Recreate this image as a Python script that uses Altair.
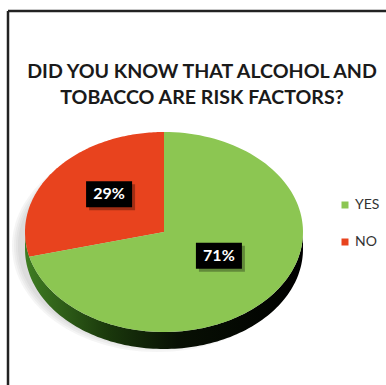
import altair as alt
import pandas as pd

# ---- data ----
categories = ["NO", "YES"]          # drawing order (NO starts at 12 o'clock, counter-clockwise)
values = [29, 71]
legend_order = ["YES", "NO"]
slice_colors = ["#8CC652", "#E8431E"]  # YES, NO
title_lines = ["DID YOU KNOW THAT ALCOHOL AND", "TOBACCO ARE RISK FACTORS?"]

# ---- geometry / style ----
W, H = 386, 385
CX, CY, RX, RY, DEPTH = 164, 232, 139, 100, 17
N = 120
FONT = "Lato"

xs = alt.Scale(domain=[0, W], nice=False, zero=False)
ys = alt.Scale(domain=[0, H], reverse=True, nice=False, zero=False)

slices = pd.DataFrame({"cat": categories, "value": values, "ord": list(range(len(categories)))})
slices["steps"] = [list(range(-1, N + 1)) for _ in categories]

base = (
    alt.Chart(slices)
    .transform_joinaggregate(total="sum(value)")
    .transform_window(cum="sum(value)", sort=[alt.SortField("ord")], frame=[None, 0])
    .transform_calculate(
        a0="PI/2 + 2*PI*(datum.cum - datum.value)/datum.total",
        a1="PI/2 + 2*PI*datum.cum/datum.total",
    )
)

# soft shadow
shadow_df = pd.DataFrame({"k": [0, 1, 2, 3]})
shadow_df["steps"] = [list(range(0, N + 1)) for _ in range(4)]
shadow = (
    alt.Chart(shadow_df)
    .transform_flatten(["steps"])
    .transform_calculate(
        a=f"2*PI*datum.steps/{N}",
        px=f"{CX - 7} + ({RX} + 2*datum.k)*cos(datum.a)",
        py=f"{CY + 14} - ({RY} + 2*datum.k)*sin(datum.a)",
    )
    .mark_line(filled=True, color="#9a9a9a", opacity=0.1, strokeWidth=0)
    .encode(
        x=alt.X("px:Q", scale=xs, axis=None),
        y=alt.Y("py:Q", scale=ys, axis=None),
        order=alt.Order("steps:Q"),
        detail="k:N",
    )
)

# 3D side wall
side_df = pd.DataFrame({"steps": [list(range(0, 2 * N + 2))]})
side = (
    alt.Chart(side_df)
    .transform_flatten(["steps"])
    .transform_calculate(
        a=f"datum.steps <= {N} ? PI + PI*datum.steps/{N} : PI + PI*({2 * N + 1} - datum.steps)/{N}",
        off=f"datum.steps <= {N} ? 0 : {DEPTH}",
        px=f"{CX} + {RX}*cos(datum.a)",
        py=f"{CY} - {RY}*sin(datum.a) + datum.off",
    )
    .mark_line(
        filled=True,
        strokeWidth=0,
        color=alt.Gradient(
            gradient="linear",
            stops=[
                alt.GradientStop(color="#3f7d22", offset=0),
                alt.GradientStop(color="#1a380c", offset=0.3),
                alt.GradientStop(color="#081004", offset=0.55),
                alt.GradientStop(color="#000000", offset=1),
            ],
            x1=0, x2=1, y1=0, y2=0,
        ),
    )
    .encode(
        x=alt.X("px:Q", scale=xs, axis=None),
        y=alt.Y("py:Q", scale=ys, axis=None),
        order=alt.Order("steps:Q"),
    )
)

# top-face wedges
wedges = (
    base.transform_flatten(["steps"])
    .transform_calculate(
        a="datum.a0 + (datum.a1 - datum.a0)*max(datum.steps, 0)/" + str(N),
        px=f"datum.steps < 0 ? {CX} : {CX} + {RX}*cos(datum.a)",
        py=f"datum.steps < 0 ? {CY} : {CY} - {RY}*sin(datum.a)",
    )
    .mark_line(filled=True, strokeWidth=0)
    .encode(
        x=alt.X("px:Q", scale=xs, axis=None),
        y=alt.Y("py:Q", scale=ys, axis=None),
        order=alt.Order("steps:Q"),
        color=alt.Color(
            "cat:N",
            scale=alt.Scale(domain=legend_order, range=slice_colors),
            legend=alt.Legend(
                title=None,
                orient="none",
                legendX=338,
                legendY=198,
                symbolType="square",
                symbolSize=49,
                symbolStrokeWidth=0,
                labelFont=FONT,
                labelFontSize=14,
                labelColor="#333333",
                labelOffset=3,
                rowPadding=23,
                padding=0,
            ),
        ),
    )
)

# data labels (black boxes)
labels = base.transform_calculate(
    mid="(datum.a0 + datum.a1)/2",
    lx=f"{CX} + 0.5*{RX}*cos(datum.mid)",
    ly=f"{CY} - 7 - 0.5*{RY}*sin(datum.mid)",
    bx1="datum.lx - 23",
    bx2="datum.lx + 23",
    by1="datum.ly - 13",
    by2="datum.ly + 13",
    sx1="datum.lx - 20",
    sx2="datum.lx + 26",
    sy1="datum.ly - 10",
    sy2="datum.ly + 16",
    txt="datum.value + '%'",
)
box_shadow = labels.mark_rect(color="#000000", opacity=0.3).encode(
    x=alt.X("sx1:Q", scale=xs, axis=None), x2="sx2:Q",
    y=alt.Y("sy1:Q", scale=ys, axis=None), y2="sy2:Q",
)
boxes = labels.mark_rect(color="#000000").encode(
    x=alt.X("bx1:Q", scale=xs, axis=None), x2="bx2:Q",
    y=alt.Y("by1:Q", scale=ys, axis=None), y2="by2:Q",
)
texts = labels.mark_text(color="white", font=FONT, fontWeight="bold", fontSize=16).encode(
    x=alt.X("lx:Q", scale=xs, axis=None),
    y=alt.Y("ly:Q", scale=ys, axis=None),
    text="txt:N",
)

# title
title_df = pd.DataFrame({"line": title_lines, "i": list(range(len(title_lines)))})
title = (
    alt.Chart(title_df)
    .transform_calculate(ty="72 + 26*datum.i")
    .mark_text(font=FONT, fontWeight="bold", fontSize=19.6, color="#1a1a1a")
    .encode(
        x=alt.value(202),
        y=alt.Y("ty:Q", scale=ys, axis=None),
        text="line:N",
    )
)

# frame
frame_df = pd.DataFrame({"k": [0]})
frame_top = alt.Chart(frame_df).mark_rule(color="#222222", strokeWidth=2.5).encode(
    x=alt.value(8), x2=alt.value(W), y=alt.value(11)
)
frame_left = alt.Chart(frame_df).mark_rule(color="#222222", strokeWidth=2.5).encode(
    x=alt.value(8), y=alt.value(11), y2=alt.value(H)
)

chart = (
    alt.layer(shadow, side, wedges, box_shadow, boxes, texts, title, frame_top, frame_left)
    .properties(width=W, height=H, padding=0, autosize=alt.AutoSizeParams(type="none"), background="white")
    .configure_view(stroke=None)
)

chart.save("out.html", embed_options={"renderer": "svg", "actions": False})
